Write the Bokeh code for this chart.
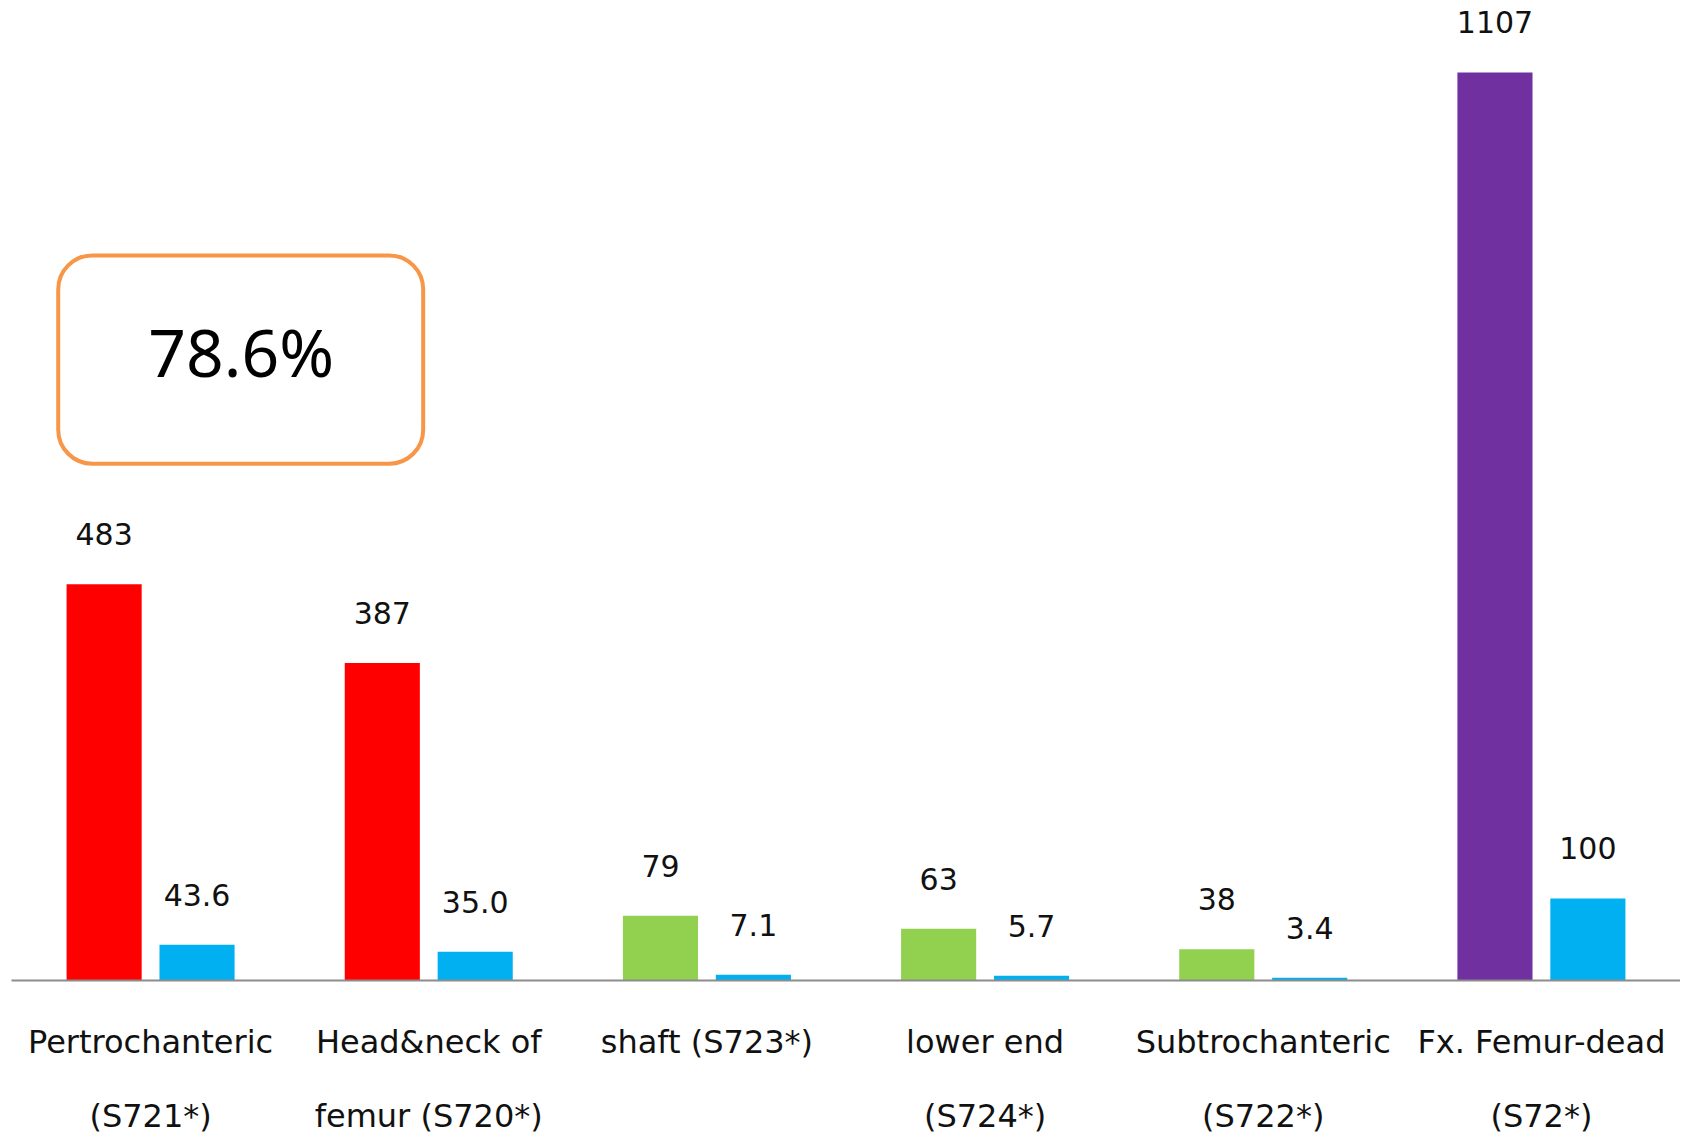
from bokeh.plotting import figure
from bokeh.models import ColumnDataSource, FactorRange, Range1d, BoxAnnotation, Label
from bokeh.transform import dodge
from bokeh.core.properties import value
from bokeh.embed import file_html
from bokeh.resources import INLINE

categories = ["Pertrochanteric\n(S721*)", "Head&neck of\nfemur (S720*)", "shaft (S723*)",
              "lower end\n(S724*)", "Subtrochanteric\n(S722*)", "Fx. Femur-dead\n(S72*)"]
counts = [483, 387, 79, 63, 38, 1107]
count_labels = ["483", "387", "79", "63", "38", "1107"]
percents = [43.6, 35.0, 7.1, 5.7, 3.4, 100]
percent_labels = ["43.6", "35.0", "7.1", "5.7", "3.4", "100"]
count_colors = ["#FF0000", "#FF0000", "#92D050", "#92D050", "#92D050", "#7030A0"]
percent_color = "#00B0F0"
highlight_text = "78.6%"

FONT = "DejaVu Sans"
BOX_FONT = "Noto Sans"

src = ColumnDataSource(dict(cat=categories, counts=counts, clab=count_labels,
                            pct=percents, plab=percent_labels, ccol=count_colors))

p = figure(x_range=FactorRange(*categories, range_padding=0), y_range=Range1d(0, 1185),
           frame_width=1669, frame_height=972, output_backend="svg", toolbar_location=None,
           min_border_left=11, min_border_right=0, min_border_top=8, min_border_bottom=0)

p.vbar(x=dodge("cat", -0.167, range=p.x_range), top="counts", width=0.27, source=src,
       fill_color="ccol", line_color=None)
p.vbar(x=dodge("cat", 0.167, range=p.x_range), top="pct", width=0.27, source=src,
       fill_color=percent_color, line_color=None)

p.text(x=dodge("cat", -0.167, range=p.x_range), y="counts", text="clab", source=src,
       text_align="center", text_baseline="middle", y_offset=-50,
       text_font=value(FONT), text_font_size="30px", text_color="#111111")
p.text(x=dodge("cat", 0.167, range=p.x_range), y="pct", text="plab", source=src,
       text_align="center", text_baseline="middle", y_offset=-50,
       text_font=value(FONT), text_font_size="30px", text_color="#111111")

box = BoxAnnotation(left=0.168, right=1.480, bottom=630, top=884,
                    fill_color="white", fill_alpha=1.0, line_color="#F79646",
                    line_alpha=1.0, line_width=4, border_radius=34)
p.add_layout(box)
p.add_layout(Label(x=0.826, y=767, text=highlight_text, text_align="center",
                   text_baseline="middle", text_font=BOX_FONT, text_font_size="66px",
                   text_color="black"))

p.yaxis.visible = False
p.xgrid.visible = False
p.ygrid.visible = False
p.outline_line_color = None
p.xaxis.axis_line_color = "#8C8C8C"
p.xaxis.axis_line_width = 2
p.xaxis.major_tick_line_color = None
p.xaxis.minor_tick_line_color = None
p.xaxis.major_tick_out = 0
p.xaxis.major_label_standoff = 42
p.xaxis.major_label_text_font = FONT
p.xaxis.major_label_text_font_size = "32px"
p.xaxis.major_label_text_color = "#111111"
p.xaxis.major_label_text_line_height = 1.95

open("out.html", "w").write(file_html(p, INLINE))
